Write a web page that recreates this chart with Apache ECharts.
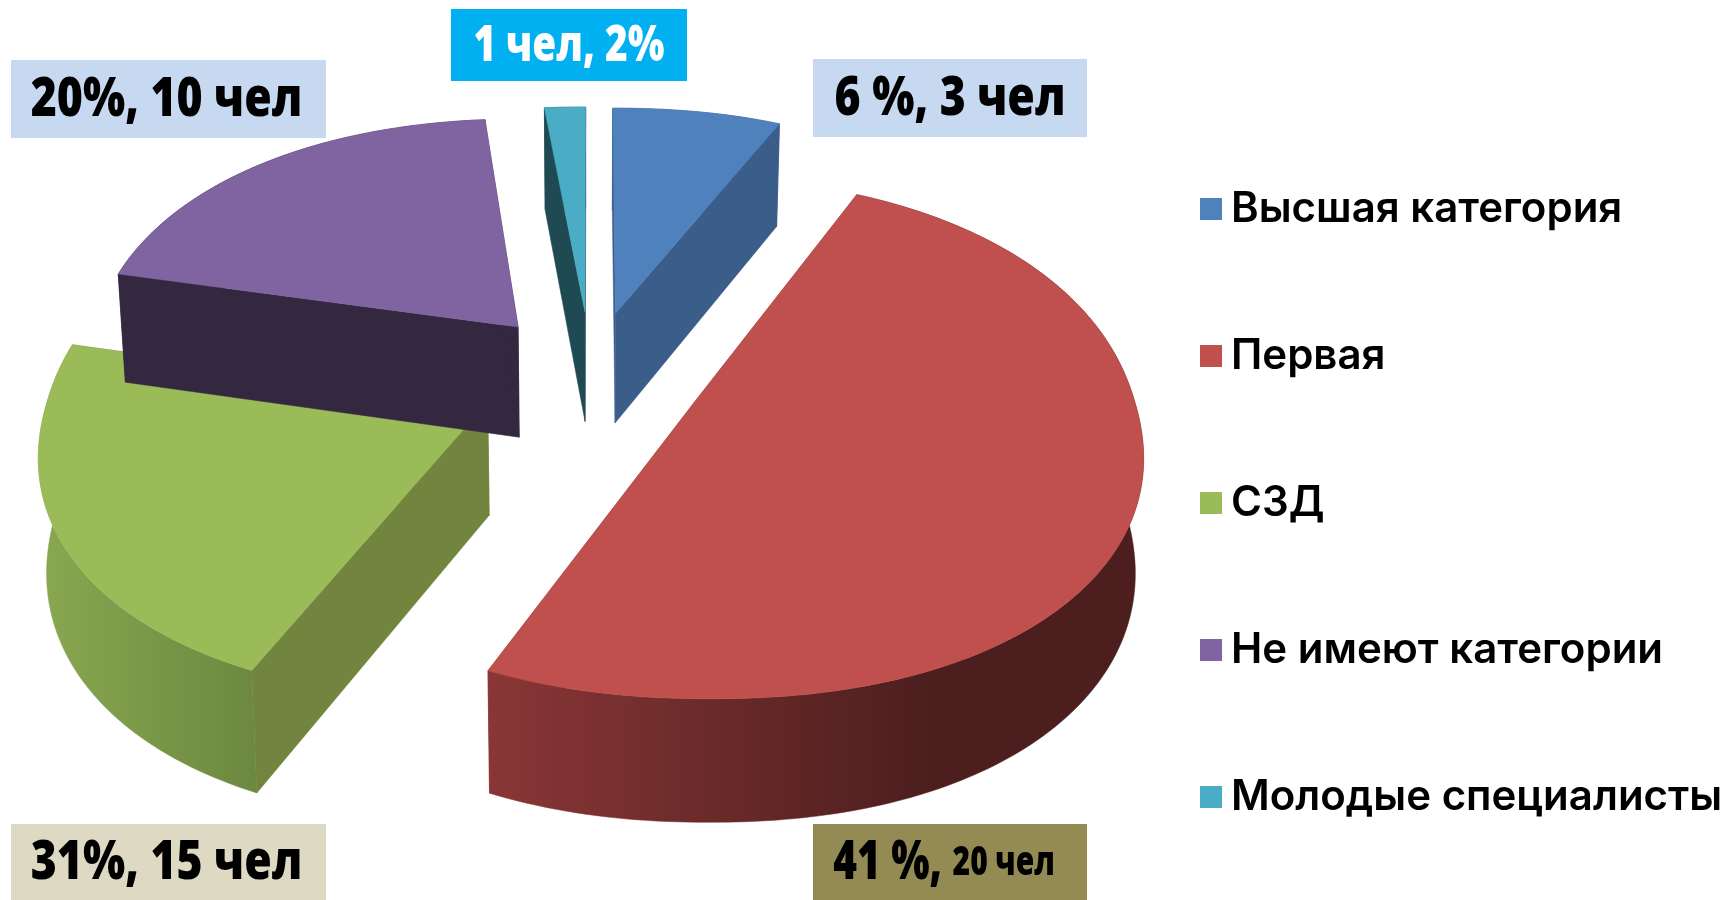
<!DOCTYPE html>
<html><head><meta charset="utf-8">
<style>html,body{margin:0;padding:0;background:#fff}#c{width:1729px;height:900px}</style>
<script src="https://cdn.jsdelivr.net/npm/echarts@6/dist/echarts.min.js"></script>
</head><body><div id="c"></div>
<script>
// Legend categories
const categories = ['Высшая категория','Первая','СЗД','Не имеют категории','Молодые специалисты'];
const sliceShares = [7.2, 49.9, 21.6, 19.53, 1.77];
// Callout texts as printed (they are pasted captions, and differ from the drawn slice sizes)
const captionPercent = ['6 %','41 %','31%','20%','2%'];
const captionPeople = ['3 чел','20 чел','15 чел','10 чел','1 чел'];

const topColors = ['#4F81BD','#C0504D','#9BBB59','#8064A2','#4BACC6'];
const cutColors = ['#3A5D8A','#8a3636','#71853F','#332840','#1F4A54'];
const rimStops = [
  [[0,'#3A5D8A'],[1,'#3A5D8A']],
  [[0,'#8a3636'],[0.68,'#4c1e1e'],[1,'#4c1e1e']],
  [[0,'#8aa851'],[1,'#6c883f']],
  [[0,'#332840'],[1,'#332840']],
  [[0,'#1F4A54'],[1,'#1F4A54']]
];
const layers = [1,2,2,2,1];

const G = {x0:591,y0:374,Rx:434,Ry:248,p:0.135,depth:112,lowShrink:0.985,n:2.15,explode:0.26};
function project(u,v,low){
  const s = 1/(1-G.p*v);
  let x = G.x0+G.Rx*u*s, y = G.y0+G.Ry*v*s;
  if(low){ x = G.x0+(x-G.x0)*G.lowShrink; y += G.depth*Math.pow(s,0.6); }
  return [x,y];
}
const radius = a => 1/Math.pow(Math.pow(Math.abs(Math.sin(a)),G.n)+Math.pow(Math.abs(Math.cos(a)),G.n),1/G.n);
const total = sliceShares.reduce((a,b)=>a+b,0);
function renderSlice(i){
  return function(params,api){
    const share = api.value(0);
    let before = 0; for(let k=0;k<i;k++) before += sliceShares[k];
    const a0 = before/total*2*Math.PI, a1 = (before+share)/total*2*Math.PI, mid=(a0+a1)/2;
    const ou = G.explode*Math.sin(mid), ov = -G.explode*Math.cos(mid);
    const rim = low => { const pts=[]; const n=Math.max(8,Math.ceil((a1-a0)/0.02));
      for(let k=0;k<=n;k++){const a=a0+(a1-a0)*k/n, r=radius(a); pts.push(project(ou+r*Math.sin(a),ov-r*Math.cos(a),low));}
      return pts; };
    const topRim = rim(false), lowRim = rim(true);
    const apexTop = project(ou,ov,false), apexLow = project(ou,ov,true);
    const poly = (points,fill)=>({type:'polygon',shape:{points},style:{fill,stroke:fill,lineWidth:0.5}});
    const last = topRim.length-1;
    return {type:'group',children:[
      poly([apexTop,topRim[0],lowRim[0],apexLow],cutColors[i]),
      poly([apexTop,topRim[last],lowRim[last],apexLow],cutColors[i]),
      poly(topRim.concat(lowRim.slice().reverse()),new echarts.graphic.LinearGradient(0,0,1,0,rimStops[i].map(s=>({offset:s[0],color:s[1]})))),
      poly([apexTop].concat(topRim),topColors[i])
    ]};
  };
}

const boxes = [
 {x:813,y:59,w:274,h:78,dx:0,fill:'#C6D9F1',color:'#000',text:captionPercent[0]+', '+captionPeople[0],size:54,sx:0.825},
 {x:813,y:824,w:274,h:76,dx:-6,fill:'#948A54',color:'#000',rich:[captionPercent[1]+',',captionPeople[1]],size:54,sx:0.75},
 {x:11,y:824,w:315,h:76,dx:-2,fill:'#DDD9C3',color:'#000',text:captionPercent[2]+', '+captionPeople[2],size:54,sx:0.825},
 {x:11,y:60,w:315,h:78,dx:-2,fill:'#C6D9F1',color:'#000',text:captionPercent[3]+', '+captionPeople[3],size:54,sx:0.825},
 {x:451,y:9,w:236,h:72,dx:0,fill:'#00B0F0',color:'#fff',text:captionPeople[4]+', '+captionPercent[4],size:50,sx:0.775}
];
const font = '"Open Sans"';
const graphicEls = [];
boxes.forEach(b=>{
  graphicEls.push({type:'rect',x:b.x,y:b.y,shape:{width:b.w,height:b.h},style:{fill:b.fill},z:5});
  const style = {x:0,y:0,align:'center',verticalAlign:'middle',fill:b.color,fontFamily:font,fontWeight:800,fontSize:b.size};
  if(b.rich){
    style.text='{a|'+b.rich[0]+'} {b|'+b.rich[1]+'}';
    style.rich={a:{fontFamily:font,fontWeight:800,fontSize:b.size,fill:b.color},b:{fontFamily:font,fontWeight:800,fontSize:40,fill:b.color}};
  } else style.text=b.text;
  graphicEls.push({type:'text',x:b.x+b.w/2+b.dx,y:b.y+b.h/2+2,scaleX:b.sx,style,z:6});
});

const chart = echarts.init(document.getElementById('c'),null,{renderer:'canvas'});
chart.setOption({
  animation:false,
  backgroundColor:'#fff',
  legend:{
    data:categories,orient:'vertical',left:1200,top:184,padding:0,
    itemWidth:22,itemHeight:22,itemGap:97,icon:'rect',selectedMode:false,
    textStyle:{fontFamily:'Inter',fontWeight:600,fontSize:42,lineHeight:50,height:50,color:'#000',padding:[0,0,0,4]}
  },
  graphic:{elements:graphicEls},
  series:categories.map((name,i)=>({
    type:'custom',name,coordinateSystem:'none',z:layers[i],silent:true,
    itemStyle:{color:topColors[i]},
    data:[[sliceShares[i]]],
    renderItem:renderSlice(i)
  }))
});
</script></body></html>
